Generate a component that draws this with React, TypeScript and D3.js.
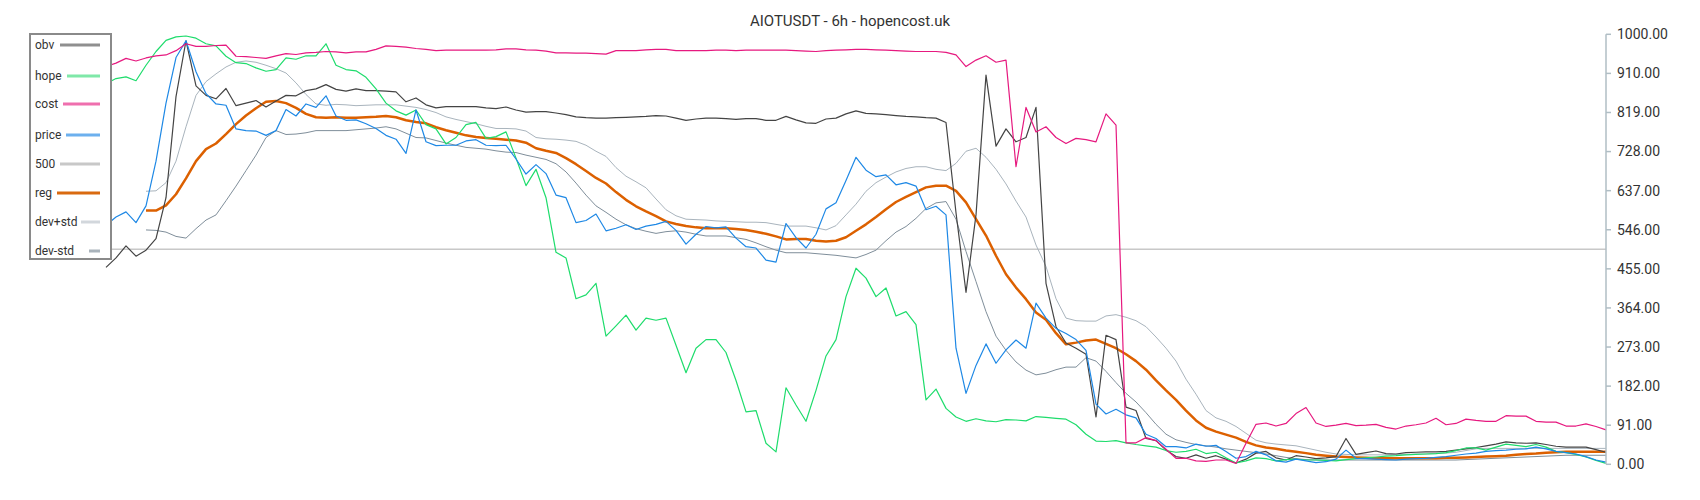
import React from 'react';
import * as d3 from 'd3';

const title = 'AIOTUSDT - 6h - hopencost.uk';
const yTickLabels = ['0.00', '91.00', '182.00', '273.00', '364.00', '455.00', '546.00', '637.00', '728.00', '819.00', '910.00', '1000.00'];
const yMax = 1000;
const refLevel = 500;

const obv = [
  458, 480, 508, 484, 498, 525, 620, 855, 985, 880,
  858, 850, 874, 834, 840, 846, 831, 845, 858, 857,
  869, 873, 883, 872, 868, 873, 869, 869, 868, 866,
  843, 852, 836, 829, 832, 832, 832, 832, 829, 827,
  831, 824, 819, 820, 820, 817, 813, 808, 806, 805,
  805, 806, 807, 808, 809, 811, 810, 805, 800, 803,
  805, 805, 804, 802, 804, 804, 800, 800, 809, 801,
  794, 793, 803, 805, 815, 822, 816, 815, 813, 811,
  809, 808, 806, 805, 795, 585, 400, 580, 905, 740,
  780, 750, 760, 830, 421, 320, 282, 270, 256, 110,
  300, 290, 133, 125, 60, 55, 33, 18, 14, 22,
  14, 20, 12, 3, 12, 26, 30, 15, 10, 20,
  17, 13, 15, 18, 60, 23, 27, 31, 25, 24,
  27, 28, 29, 29, 30, 33, 36, 39, 43, 47,
  52, 50, 49, 50, 46, 42, 40, 40, 40, 34,
  28,
];

const hope = [
  885, 897, 901, 892, 928, 960, 986, 994, 996, 991,
  978, 973, 949, 934, 932, 922, 914, 918, 945, 942,
  950, 950, 978, 928, 918, 915, 900, 873, 840, 822,
  812, 824, 790, 780, 745, 760, 790, 795, 758, 762,
  773, 712, 648, 686, 620, 493, 480, 385, 394, 421,
  298, 322, 347, 312, 340, 335, 340, 277, 213, 270,
  290, 290, 260, 195, 122, 125, 49, 29, 178, 138,
  100, 172, 252, 290, 390, 456, 433, 390, 410, 345,
  355, 325, 150, 175, 130, 110, 100, 106, 101, 99,
  104, 103, 101, 111, 109, 107, 105, 92, 70, 54,
  53, 55, 50, 46, 43, 40, 32, 28, 30, 35,
  25, 28, 15, 3, 8, 15, 13, 8, 11, 12,
  10, 10, 9, 8, 11, 13, 15, 17, 19, 20,
  22, 23, 24, 25, 27, 32, 38, 38, 33, 40,
  47, 44, 41, 46, 40, 30, 27, 23, 17, 9,
  2,
];

const cost = [
  925, 933, 944, 938, 945, 950, 952, 962, 978, 972,
  972, 974, 975, 949, 948, 946, 944, 950, 955, 953,
  957, 958, 960, 959, 957, 959, 959, 965, 973, 972,
  970, 967, 965, 962, 963, 963, 963, 963, 963, 964,
  966, 966, 964, 963, 961, 957, 957, 956, 956, 955,
  954, 962, 962, 962, 964, 965, 965, 962, 962, 962,
  962, 963, 963, 962, 963, 963, 963, 963, 963, 962,
  961, 960, 962, 963, 964, 965, 965, 964, 963, 962,
  961, 960, 960, 960, 958, 952, 925, 940, 950, 935,
  940, 692, 830, 773, 785, 760, 746, 758, 755, 750,
  815, 789, 50, 50, 62, 55, 35, 14, 14, 8,
  7, 10, 10, 2, 49, 93, 96, 89, 95, 118,
  132, 96, 88, 91, 95, 90, 91, 93, 86, 82,
  89, 92, 96, 107, 92, 95, 105, 102, 100, 100,
  113, 112, 112, 100, 98, 98, 89, 89, 94, 88,
  80,
];

const price = [
  556, 575, 587, 562, 601, 705, 840, 946, 985, 913,
  862, 838, 835, 780, 776, 775, 765, 776, 825, 810,
  838, 830, 857, 810, 800, 801, 792, 781, 765, 756,
  723, 824, 750, 741, 742, 742, 752, 755, 742, 741,
  742, 710, 675, 697, 676, 626, 620, 562, 567, 582,
  543, 549, 557, 546, 554, 558, 565, 544, 512, 535,
  553, 550, 552, 526, 506, 503, 475, 470, 560, 527,
  503, 535, 594, 608, 660, 714, 684, 669, 673, 650,
  655, 647, 592, 600, 580, 270, 165, 230, 280, 235,
  266, 289, 270, 375, 340, 316, 304, 290, 265, 140,
  117, 128, 115, 108, 70, 60, 41, 41, 38, 47,
  42, 44, 30, 14, 18, 30, 22, 8, 5, 12,
  8, 4, 6, 12, 33, 14, 13, 12, 11, 10,
  12, 13, 14, 16, 18, 21, 24, 26, 30, 32,
  33, 35, 36, 40, 36, 30, 27, 24, 18, 10,
  5,
];

const reg = [
  null, null, null, null, 590, 590, 602, 628, 665, 705,
  733, 746, 768, 791, 811, 828, 843, 845, 840, 829,
  815, 807, 806, 807, 806, 806, 807, 808, 810, 807,
  800, 796, 793, 784, 777, 771, 765, 761, 759, 757,
  755, 753, 748, 735, 729, 724, 712, 698, 682, 666,
  653, 633, 615, 600, 588, 577, 565, 559, 554, 551,
  549, 549, 549, 547, 545, 541, 536, 530, 523, 524,
  524, 520, 518, 520, 528, 543, 558, 575, 593, 610,
  622, 633, 644, 648, 648, 636, 609, 570, 532, 485,
  442, 411, 384, 353, 336, 305, 279, 283, 288, 290,
  280, 270, 256, 240, 220, 195, 172, 150, 125, 102,
  85, 76, 69, 62, 52, 44, 39, 36, 32, 29,
  26, 22, 20, 18, 17, 16, 15, 14, 14, 14,
  14, 14, 14, 14, 15, 15, 16, 17, 18, 19,
  20, 22, 24, 25, 27, 28, 29, 29, 29, 29,
  29,
];

const devPlus = [
  null, null, null, null, 635, 636, 655, 705, 785, 858,
  890, 908, 924, 935, 938, 935, 928, 920, 910, 887,
  860, 838, 835, 837, 836, 834, 835, 836, 836, 836,
  833, 830, 825, 818, 808, 802, 797, 792, 786, 781,
  781, 780, 775, 760, 757, 756, 754, 751, 742, 728,
  716, 690, 670, 657, 643, 617, 592, 578, 570, 569,
  568, 566, 565, 564, 563, 563, 562, 558, 554, 554,
  554, 550, 545, 555, 580, 605, 635, 655, 668, 680,
  688, 692, 692, 686, 683, 700, 728, 735, 714, 686,
  652, 612, 575, 510, 460, 385, 340, 334, 333, 333,
  345, 348, 342, 334, 320, 296, 270, 240, 198, 163,
  125, 108, 100, 88, 72, 56, 50, 47, 45, 43,
  38, 33, 28, 24, 23, 22, 22, 22, 22, 23,
  23, 24, 24, 25, 26, 28, 32, 36, 37, 37,
  37, 37, 37, 37, 37, 37, 37, 37, 37, 37,
  37,
];

const devMinus = [
  null, null, null, null, 545, 544, 540, 530, 526, 548,
  568, 580, 613, 647, 683, 719, 760, 776, 767, 768,
  771, 776, 776, 776, 776, 778, 780, 782, 785, 780,
  770, 760, 759, 753, 747, 742, 737, 735, 733, 729,
  726, 725, 719, 714, 709, 699, 680, 654, 626, 601,
  586, 570, 557, 548, 542, 537, 541, 543, 540, 535,
  531, 531, 531, 527, 523, 515, 506, 498, 492, 492,
  492, 490, 488, 486, 483, 480, 488, 498, 520, 540,
  553, 572, 595, 608, 611, 570, 495, 425, 355, 298,
  265, 238, 219, 208, 212, 220, 226, 226, 248, 240,
  216, 190, 165, 145, 120, 93, 70, 57, 51, 46,
  43, 40, 36, 33, 30, 27, 24, 20, 16, 13,
  11, 10, 10, 10, 10, 10, 10, 10, 10, 10,
  10, 10, 10, 10, 10, 10, 11, 12, 13, 14,
  15, 16, 17, 18, 19, 20, 21, 21, 21, 21,
  21,
];

const legendNames = ['obv', 'hope', 'cost', 'price', '500', 'reg', 'dev+std', 'dev-std'];

// styling (kept separate from the data)
const seriesStyle: Record<string, { color: string; width: number; legend: string }> = {
  obv: { color: '#444444', width: 1.2, legend: '#8f8f8f' },
  hope: { color: '#1edc6c', width: 1.2, legend: '#7fe8a8' },
  cost: { color: '#e6197f', width: 1.2, legend: '#ef6fae' },
  price: { color: '#1e88e5', width: 1.2, legend: '#6cb0ee' },
  '500': { color: '#c8c8c8', width: 1.6, legend: '#c8c8c8' },
  reg: { color: '#dc6000', width: 2.5, legend: '#d96a10' },
  'dev+std': { color: '#a9b4bd', width: 1, legend: '#d2d7dc' },
  'dev-std': { color: '#7f8e9a', width: 1, legend: '#a9b3bb' },
};
const legendLineStart = [60, 67, 63, 66, 60, 57, 81, 89];
const legendRowY = [45, 76, 104, 135, 164, 193, 222, 251];

export default function App() {
  const W = 1700;
  const H = 500;
  const left = 106;
  const right = 1606;
  const top = 34.3;
  const bottom = 464.3;

  const x = d3.scaleLinear().domain([0, obv.length - 1]).range([left, right]);
  const y = d3.scaleLinear().domain([0, yMax]).range([bottom, top]);
  const line = d3
    .line<number | null>()
    .defined((d) => d != null)
    .x((_, i) => x(i))
    .y((d) => y(d as number));

  const series: { name: string; data: (number | null)[] }[] = [
    { name: 'dev+std', data: devPlus },
    { name: 'dev-std', data: devMinus },
    { name: 'reg', data: reg },
    { name: 'obv', data: obv },
    { name: 'hope', data: hope },
    { name: 'price', data: price },
    { name: 'cost', data: cost },
  ];

  const nT = yTickLabels.length - 1;

  return (
    <svg
      width={W}
      height={H}
      style={{ position: 'absolute', left: 0, top: 0, background: '#fff' }}
      fontFamily="Roboto, 'Noto Sans', sans-serif"
    >
      <rect x={0} y={0} width={W} height={H} fill="#ffffff" />
      <text x={W / 2} y={26} textAnchor="middle" fontSize={15} fill="#333">
        {title}
      </text>

      {/* reference level */}
      <line
        x1={30}
        x2={right}
        y1={y(refLevel)}
        y2={y(refLevel)}
        stroke={seriesStyle['500'].color}
        strokeWidth={seriesStyle['500'].width}
      />

      {series.map((s) => (
        <path
          key={s.name}
          d={line(s.data) || ''}
          fill="none"
          stroke={seriesStyle[s.name].color}
          strokeWidth={seriesStyle[s.name].width}
          strokeLinejoin="round"
        />
      ))}

      {/* right axis */}
      <g>
        <line x1={right} x2={right} y1={top} y2={bottom} stroke="#b0bec5" strokeWidth={1.5} />
        {yTickLabels.map((lab, i) => {
          const v = (i * yMax) / nT;
          const yy = y(v);
          return (
            <g key={lab}>
              <line x1={right} x2={right + 5} y1={yy} y2={yy} stroke="#b0bec5" strokeWidth={1.5} />
              <text x={right + 11} y={yy} dy="0.35em" fontSize={14} fill="#333">
                {lab}
              </text>
            </g>
          );
        })}
      </g>

      {/* legend */}
      <g>
        <rect x={30} y={34} width={81} height={225} fill="#fff" stroke="#8a8a8a" strokeWidth={2} />
        {legendNames.map((n, i) => (
          <g key={n}>
            <text x={35} y={legendRowY[i]} dy="0.35em" fontSize={12} fill="#333">
              {n}
            </text>
            <line
              x1={legendLineStart[i]}
              x2={100}
              y1={legendRowY[i]}
              y2={legendRowY[i]}
              stroke={seriesStyle[n].legend}
              strokeWidth={3}
            />
          </g>
        ))}
      </g>
    </svg>
  );
}
